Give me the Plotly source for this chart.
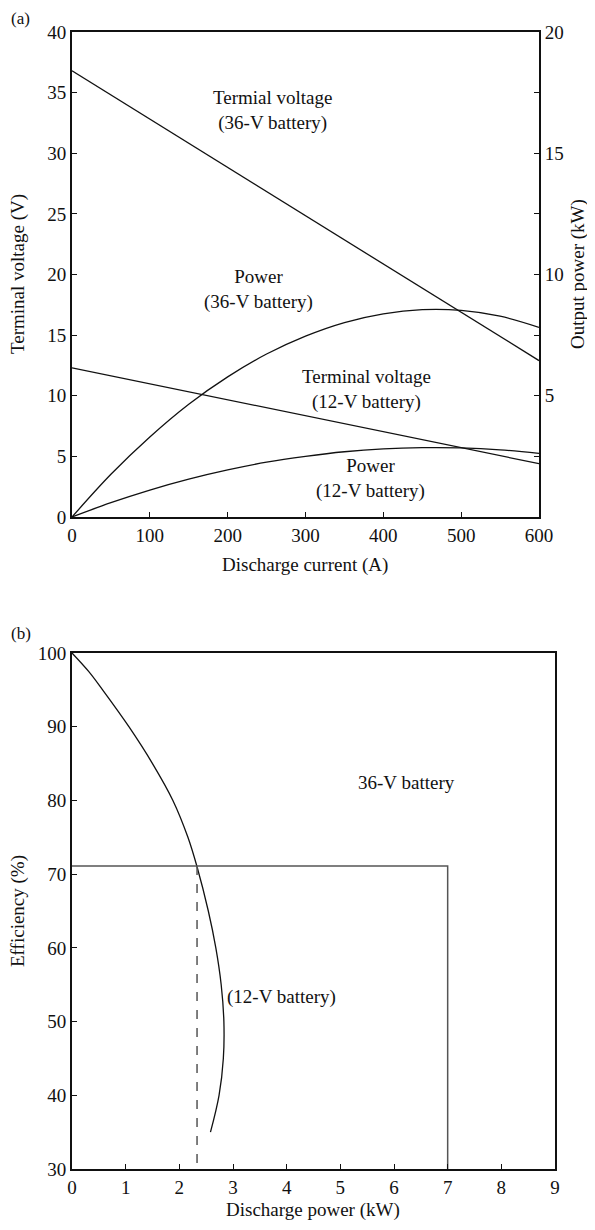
import plotly.graph_objects as go

# (a) terminal voltage and output power vs discharge current
current_a = [0, 50, 100, 150, 200, 250, 300, 350, 400, 450, 500, 550, 600]
v36_current = [0, 600]
v36_volts = [36.8, 12.9]
v12_current = [0, 600]
v12_volts = [12.3, 4.4]
p36_kw = [0, 1.76, 3.3, 4.65, 5.78, 6.72, 7.46, 8.02, 8.38, 8.55, 8.52, 8.28, 7.82]
p12_kw = [0, 0.59, 1.11, 1.56, 1.94, 2.26, 2.5, 2.69, 2.81, 2.86, 2.85, 2.77, 2.62]

# (b) efficiency vs discharge power
eff_power_kw = [0, 0.31, 0.57, 1.06, 1.5, 1.88, 2.16, 2.33, 2.54, 2.68, 2.78, 2.83, 2.82, 2.74, 2.58]
eff_pct = [100, 97.5, 95, 90, 85, 80, 75, 71, 65, 60, 55, 50, 45, 40, 35]
box_power_kw = [0, 7, 7]
box_eff = [71.1, 71.1, 30]
dash_power_kw = [2.33, 2.33]
dash_eff = [71.1, 30]

# page body adds an 8px margin on each side, keep the figure inside the window
OFF = 8
W, H = 595 - 2 * OFF, 1230 - 2 * OFF
FONT = "Liberation Serif, Times New Roman, serif"
BLACK = "#111"
GREY = "#555"


def px_x(p):
    return (p - OFF) / W


def px_y(p):
    return 1 - (p - OFF) / H


fig = go.Figure()

line_style = dict(color=BLACK, width=1.3)
fig.add_trace(go.Scatter(x=v36_current, y=v36_volts, mode="lines", line=line_style,
                         xaxis="x", yaxis="y", showlegend=False))
fig.add_trace(go.Scatter(x=v12_current, y=v12_volts, mode="lines", line=line_style,
                         xaxis="x", yaxis="y", showlegend=False))
fig.add_trace(go.Scatter(x=current_a, y=p36_kw, mode="lines", line=dict(shape="spline", **line_style),
                         xaxis="x", yaxis="y2", showlegend=False))
fig.add_trace(go.Scatter(x=current_a, y=p12_kw, mode="lines", line=dict(shape="spline", **line_style),
                         xaxis="x", yaxis="y2", showlegend=False))

fig.add_trace(go.Scatter(x=eff_power_kw, y=eff_pct, mode="lines",
                         line=dict(shape="spline", **line_style),
                         xaxis="x3", yaxis="y3", showlegend=False))
fig.add_trace(go.Scatter(x=box_power_kw, y=box_eff, mode="lines",
                         line=dict(color=GREY, width=1.5),
                         xaxis="x3", yaxis="y3", showlegend=False))
fig.add_trace(go.Scatter(x=dash_power_kw, y=dash_eff, mode="lines",
                         line=dict(color=GREY, width=1.5, dash="dash"),
                         xaxis="x3", yaxis="y3", showlegend=False))

FS = 19
tick_font = dict(family=FONT, size=FS, color=BLACK)
axis_common = dict(showline=True, linecolor=BLACK, linewidth=2, ticks="inside",
                   ticklen=5, tickcolor=BLACK, tickwidth=1, showgrid=False,
                   zeroline=False, tickfont=tick_font, automargin=False)

top_dom = [px_y(517), px_y(32)]
bot_dom = [px_y(1169), px_y(653)]

fig.update_layout(
    width=W, height=H,
    margin=dict(l=0, r=0, t=0, b=0, autoexpand=False),
    paper_bgcolor="white", plot_bgcolor="white",
    font=dict(family=FONT, size=FS, color=BLACK),
    xaxis=dict(domain=[px_x(72), px_x(539)], range=[0, 600], dtick=100,
               mirror=True, anchor="y", **axis_common),
    yaxis=dict(domain=top_dom, range=[0, 40], dtick=5, anchor="x", **axis_common),
    yaxis2=dict(overlaying="y", side="right", range=[0, 20], anchor="x",
                tickvals=[2.5, 5, 7.5, 10, 12.5, 15, 17.5, 20],
                ticktext=["", "5", "", "10", "", "15", "", "20"],
                **axis_common),
    xaxis3=dict(domain=[px_x(72), px_x(555)], range=[0, 9], dtick=1,
                mirror=True, anchor="y3", **axis_common),
    yaxis3=dict(domain=bot_dom, range=[30, 100], dtick=10, mirror=True,
                anchor="x3", **axis_common),
)

ann_font = dict(family=FONT, size=FS, color=BLACK)
notes = [
    ("x", "y", 258, 33.5, "Termial voltage<br>(36-V battery)"),
    ("x", "y", 239, 18.8, "Power<br>(36-V battery)"),
    ("x", "y", 379, 10.5, "Terminal voltage<br>(12-V battery)"),
    ("x", "y", 383, 3.2, "Power<br>(12-V battery)"),
    ("x3", "y3", 6.24, 82.5, "36-V battery"),
    ("x3", "y3", 3.9, 53.3, "(12-V battery)"),
]
for xr, yr, xv, yv, txt in notes:
    fig.add_annotation(x=xv, y=yv, xref=xr, yref=yr, text=txt, showarrow=False,
                       font=ann_font, xanchor="center", yanchor="middle")

# panel letters, anchored at their top-left corner
for yp, txt in [(8, "(a)"), (623, "(b)")]:
    fig.add_annotation(x=px_x(10), y=px_y(yp), xref="paper", yref="paper", text=txt,
                       showarrow=False, font=dict(family=FONT, size=17, color=BLACK),
                       xanchor="left", yanchor="top", borderpad=0)

paper_notes = [
    (18, 274, "Terminal voltage (V)", -90),
    (578, 274, "Output power (kW)", -90),
    (305, 565, "Discharge current (A)", 0),
    (18, 911, "Efficiency (%)", -90),
    (313, 1210, "Discharge power (kW)", 0),
]
for xp, yp, txt, ang in paper_notes:
    fig.add_annotation(x=px_x(xp), y=px_y(yp), xref="paper", yref="paper", text=txt,
                       showarrow=False, font=ann_font, textangle=ang,
                       xanchor="center", yanchor="middle")

fig.write_html("out.html")
